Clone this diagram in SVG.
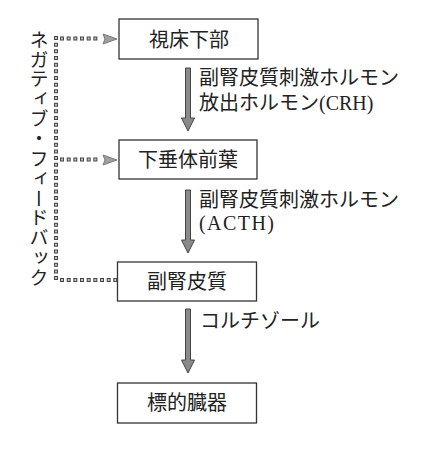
<svg xmlns="http://www.w3.org/2000/svg" width="448" height="461" viewBox="0 0 448 461">
<style>
.box{fill:#fff;stroke:#333;stroke-width:1.3}
.t{font-family:"Liberation Serif","Noto Sans CJK JP",serif;font-size:20px;fill:#222}
.c{text-anchor:middle;dominant-baseline:central}
.l{dominant-baseline:central}
.dotO{fill:none;stroke:#444;stroke-width:4;stroke-dasharray:4 2.67}
.dotI{fill:none;stroke:#c4c4c4;stroke-width:2;stroke-dasharray:2 4.67;stroke-dashoffset:-1}
.arr{fill:#8a8a8a;stroke:#444;stroke-width:1}
.harr{fill:#a0a0a0;stroke:#777;stroke-width:1}
</style>
<rect width="448" height="461" fill="#fff"/>
<g id="connectors">
  <path class="dotO" d="M56,36 V282"/>
  <path class="dotI" d="M56,36 V282"/>
  <path class="dotO" d="M60,38.5 H100"/>
  <path class="dotI" d="M60,38.5 H100"/>
  <path class="dotO" d="M60,159.5 H100"/>
  <path class="dotI" d="M60,159.5 H100"/>
  <path class="dotO" d="M60,280 H118"/>
  <path class="dotI" d="M60,280 H118"/>
  <polygon class="harr" points="103,34 117,39 103,44 105,39"/>
  <polygon class="harr" points="103,155 117,160 103,165 105,160"/>
  <path class="arr" d="M185.5,68 H190.5 V118 H194.5 L188,131 L181.5,118 H185.5 Z"/>
  <path class="arr" d="M185.5,190 H190.5 V240 H194.5 L188,253 L181.5,240 H185.5 Z"/>
  <path class="arr" d="M185.5,309 H190.5 V360 H194.5 L188,373 L181.5,360 H185.5 Z"/>
  <text class="t l" x="199" y="78">副腎皮質刺激ホルモン</text>
  <text class="t l" x="199" y="103">放出ホルモン(CRH)</text>
  <text class="t l" x="199" y="200">副腎皮質刺激ホルモン</text>
  <text class="t l" x="199" y="223" textLength="75" lengthAdjust="spacing">(ACTH)</text>
  <text class="t l" x="200" y="321">コルチゾール</text>
  <text class="t" x="37" y="30" style="writing-mode:vertical-rl;text-orientation:upright;font-size:19px;letter-spacing:0.85px">ネガティブ・フィードバック</text>
</g>
<g id="n1"><rect class="box" x="119" y="19" width="139" height="40"/><text class="t c" x="189" y="39.5">視床下部</text></g>
<g id="n2"><rect class="box" x="119" y="140" width="138" height="39"/><text class="t c" x="188" y="160">下垂体前葉</text></g>
<g id="n3"><rect class="box" x="117.5" y="262" width="139" height="39"/><text class="t c" x="187" y="281.5">副腎皮質</text></g>
<g id="n4"><rect class="box" x="117.5" y="383" width="139" height="40"/><text class="t c" x="187" y="403">標的臓器</text></g>
</svg>
